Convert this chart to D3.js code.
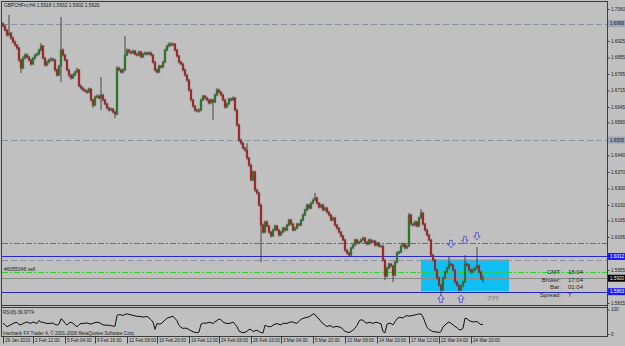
<!DOCTYPE html>
<html><head><meta charset="utf-8">
<script src="https://cdn.jsdelivr.net/npm/d3@7"></script>
<style>body{margin:0;background:#c0c0c0;}svg{display:block}</style>
</head><body>
<svg id="c" width="625" height="346"></svg>
<script>
// ---------- data ----------
const titleText = "GBPCHFm,H4  1.5918 1.5932 1.5902 1.5920";
const opens = [
1.6998,1.6988,1.6971,1.6950,1.6958,1.6937,1.6920,1.6908,1.6895,1.6844,
1.6810,1.6852,1.6865,1.6857,1.6844,1.6827,1.6852,1.6865,1.6869,1.6886,
1.6903,1.6852,1.6823,1.6835,1.6844,1.6848,1.6844,1.6802,1.6780,1.6818,
1.6886,1.6865,1.6844,1.6802,1.6780,1.6768,1.6780,1.6793,1.6802,1.6734,
1.6725,1.6717,1.6713,1.6708,1.6721,1.6675,1.6653,1.6687,1.6691,1.6683,
1.6696,1.6675,1.6658,1.6641,1.6632,1.6636,1.6624,1.6615,1.6810,1.6802,
1.6793,1.6802,1.6865,1.6886,1.6878,1.6874,1.6882,1.6869,1.6865,1.6878,
1.6857,1.6869,1.6874,1.6869,1.6874,1.6865,1.6835,1.6802,1.6793,1.6818,
1.6814,1.6835,1.6886,1.6903,1.6912,1.6908,1.6912,1.6886,1.6861,1.6835,
1.6827,1.6802,1.6780,1.6759,1.6717,1.6675,1.6649,1.6632,1.6628,1.6632,
1.6675,1.6691,1.6683,1.6675,1.6662,1.6675,1.6666,1.6696,1.6717,1.6708,
1.6696,1.6675,1.6645,1.6658,1.6679,1.6675,1.6683,1.6632,1.6569,1.6505,
1.6492,1.6471,1.6463,1.6429,1.6399,1.6336,1.6370,1.6293,1.6281,1.6230,
1.6145,1.6115,1.6158,1.6141,1.6115,1.6099,1.6124,1.6141,1.6124,1.6103,
1.6115,1.6132,1.6124,1.6145,1.6166,1.6149,1.6124,1.6132,1.6149,1.6145,
1.6166,1.6188,1.6209,1.6230,1.6217,1.6238,1.6251,1.6260,1.6238,1.6221,
1.6230,1.6209,1.6217,1.6200,1.6188,1.6166,1.6175,1.6145,1.6132,1.6115,
1.6099,1.6082,1.6039,1.6027,1.6018,1.6048,1.6060,1.6082,1.6069,1.6073,
1.6082,1.6090,1.6073,1.6065,1.6082,1.6073,1.6077,1.6060,1.6069,1.6056,
1.6056,1.5997,1.5929,1.5963,1.5980,1.5972,1.5933,1.5988,1.6027,1.6031,
1.6056,1.6065,1.6048,1.6056,1.6188,1.6149,1.6145,1.6158,1.6141,1.6175,
1.6196,1.6149,1.6124,1.6103,1.6082,1.6018,1.5997,1.5955,1.5921,1.5891,
1.5870,1.5921,1.5946,1.5963,1.5980,1.5976,1.5955,1.5904,1.5891,1.5870,
1.5887,1.5904,1.5980,1.5976,1.5955,1.5946,1.5955,1.5963,1.5972,1.5946,
1.5918];
const highs = [
1.7004,1.6994,1.6976,1.7035,1.6963,1.6944,1.6927,1.6912,1.6900,1.6850,
1.6860,1.6872,1.6873,1.6862,1.6849,1.6857,1.6870,1.6876,1.6892,1.6916,
1.6908,1.6857,1.6842,1.6850,1.6856,1.6853,1.6849,1.6808,1.6824,1.7026,
1.6893,1.6870,1.6848,1.6807,1.6786,1.6788,1.6799,1.6812,1.6806,1.6741,
1.6731,1.6723,1.6719,1.6727,1.6726,1.6680,1.6693,1.6698,1.6697,1.6772,
1.6701,1.6680,1.6663,1.6646,1.6642,1.6641,1.6629,1.6818,1.6816,1.6808,
1.6809,1.6945,1.6893,1.6892,1.6884,1.6888,1.6887,1.6875,1.6884,1.6883,
1.6875,1.6880,1.6879,1.6881,1.6879,1.6870,1.6840,1.6808,1.6824,1.6823,
1.6841,1.6892,1.6909,1.6918,1.6920,1.6918,1.6916,1.6891,1.6866,1.6841,
1.6832,1.6808,1.6785,1.6764,1.6722,1.6680,1.6654,1.6638,1.6639,1.6681,
1.6697,1.6696,1.6689,1.6680,1.6681,1.6680,1.6702,1.6725,1.6722,1.6713,
1.6701,1.6680,1.6664,1.6685,1.6684,1.6690,1.6688,1.6637,1.6574,1.6511,
1.6498,1.6477,1.6492,1.6434,1.6404,1.6376,1.6375,1.6299,1.6286,1.6235,
1.6151,1.6164,1.6165,1.6146,1.6120,1.6130,1.6147,1.6146,1.6129,1.6121,
1.6138,1.6137,1.6151,1.6172,1.6171,1.6154,1.6138,1.6155,1.6154,1.6172,
1.6194,1.6215,1.6236,1.6235,1.6244,1.6257,1.6281,1.6265,1.6243,1.6236,
1.6235,1.6223,1.6222,1.6205,1.6193,1.6181,1.6180,1.6150,1.6137,1.6120,
1.6104,1.6087,1.6044,1.6032,1.6054,1.6066,1.6088,1.6087,1.6079,1.6088,
1.6096,1.6095,1.6078,1.6088,1.6087,1.6083,1.6082,1.6075,1.6074,1.6062,
1.6061,1.6002,1.5969,1.5986,1.5985,1.5977,1.5994,1.6033,1.6037,1.6062,
1.6071,1.6070,1.6062,1.6196,1.6193,1.6155,1.6164,1.6163,1.6181,1.6213,
1.6201,1.6154,1.6129,1.6108,1.6087,1.6023,1.6002,1.5960,1.5926,1.5896,
1.5927,1.5952,1.5969,1.6010,1.5986,1.5981,1.5960,1.5909,1.5896,1.5893,
1.5910,1.6018,1.5986,1.5981,1.5961,1.5961,1.5969,1.6052,1.5977,1.5951,
1.5932];
const lows = [
1.6982,1.6965,1.6943,1.6945,1.6930,1.6914,1.6901,1.6887,1.6836,1.6789,
1.6804,1.6847,1.6850,1.6838,1.6820,1.6822,1.6846,1.6859,1.6864,1.6880,
1.6846,1.6816,1.6817,1.6829,1.6838,1.6837,1.6795,1.6773,1.6776,1.6751,
1.6858,1.6837,1.6796,1.6772,1.6761,1.6763,1.6775,1.6788,1.6728,1.6719,
1.6711,1.6706,1.6700,1.6703,1.6668,1.6641,1.6648,1.6682,1.6677,1.6632,
1.6669,1.6652,1.6635,1.6626,1.6627,1.6618,1.6598,1.6610,1.6796,1.6786,
1.6788,1.6797,1.6860,1.6872,1.6868,1.6869,1.6863,1.6859,1.6860,1.6851,
1.6852,1.6864,1.6863,1.6865,1.6859,1.6829,1.6795,1.6786,1.6789,1.6808,
1.6809,1.6830,1.6881,1.6898,1.6902,1.6903,1.6880,1.6855,1.6829,1.6821,
1.6796,1.6774,1.6752,1.6710,1.6668,1.6642,1.6626,1.6621,1.6622,1.6627,
1.6670,1.6677,1.6669,1.6656,1.6657,1.6590,1.6661,1.6691,1.6702,1.6690,
1.6669,1.6638,1.6640,1.6653,1.6669,1.6670,1.6626,1.6562,1.6498,1.6485,
1.6465,1.6456,1.6422,1.6392,1.6330,1.6331,1.6286,1.6274,1.6223,1.5988,
1.6108,1.6110,1.6135,1.6108,1.6092,1.6094,1.6119,1.6118,1.6096,1.6098,
1.6110,1.6118,1.6119,1.6140,1.6143,1.6118,1.6119,1.6127,1.6139,1.6140,
1.6161,1.6183,1.6204,1.6211,1.6212,1.6233,1.6246,1.6232,1.6215,1.6216,
1.6203,1.6204,1.6194,1.6182,1.6160,1.6161,1.6139,1.6126,1.6109,1.6093,
1.6076,1.6032,1.6021,1.6011,1.6013,1.6043,1.6055,1.6063,1.6064,1.6068,
1.6077,1.6067,1.6059,1.6060,1.6067,1.6068,1.6054,1.6055,1.6050,1.6050,
1.5990,1.5912,1.5924,1.5958,1.5966,1.5904,1.5928,1.5983,1.6021,1.6026,
1.6051,1.6042,1.6043,1.6051,1.6143,1.6139,1.6140,1.6135,1.6136,1.6170,
1.6143,1.6118,1.6097,1.6076,1.6012,1.5991,1.5949,1.5915,1.5885,1.5840,
1.5865,1.5916,1.5941,1.5958,1.5970,1.5949,1.5898,1.5885,1.5864,1.5865,
1.5882,1.5899,1.5970,1.5949,1.5940,1.5941,1.5950,1.5958,1.5940,1.5912,
1.5902];
const closes = [
1.6988,1.6971,1.6950,1.6958,1.6937,1.6920,1.6908,1.6895,1.6844,1.6810,
1.6852,1.6865,1.6857,1.6844,1.6827,1.6852,1.6865,1.6869,1.6886,1.6903,
1.6852,1.6823,1.6835,1.6844,1.6848,1.6844,1.6802,1.6780,1.6818,1.6886,
1.6865,1.6844,1.6802,1.6780,1.6768,1.6780,1.6793,1.6802,1.6734,1.6725,
1.6717,1.6713,1.6708,1.6721,1.6675,1.6653,1.6687,1.6691,1.6683,1.6696,
1.6675,1.6658,1.6641,1.6632,1.6636,1.6624,1.6615,1.6810,1.6802,1.6793,
1.6802,1.6865,1.6886,1.6878,1.6874,1.6882,1.6869,1.6865,1.6878,1.6857,
1.6869,1.6874,1.6869,1.6874,1.6865,1.6835,1.6802,1.6793,1.6818,1.6814,
1.6835,1.6886,1.6903,1.6912,1.6908,1.6912,1.6886,1.6861,1.6835,1.6827,
1.6802,1.6780,1.6759,1.6717,1.6675,1.6649,1.6632,1.6628,1.6632,1.6675,
1.6691,1.6683,1.6675,1.6662,1.6675,1.6666,1.6696,1.6717,1.6708,1.6696,
1.6675,1.6645,1.6658,1.6679,1.6675,1.6683,1.6632,1.6569,1.6505,1.6492,
1.6471,1.6463,1.6429,1.6399,1.6336,1.6370,1.6293,1.6281,1.6230,1.6145,
1.6115,1.6158,1.6141,1.6115,1.6099,1.6124,1.6141,1.6124,1.6103,1.6115,
1.6132,1.6124,1.6145,1.6166,1.6149,1.6124,1.6132,1.6149,1.6145,1.6166,
1.6188,1.6209,1.6230,1.6217,1.6238,1.6251,1.6260,1.6238,1.6221,1.6230,
1.6209,1.6217,1.6200,1.6188,1.6166,1.6175,1.6145,1.6132,1.6115,1.6099,
1.6082,1.6039,1.6027,1.6018,1.6048,1.6060,1.6082,1.6069,1.6073,1.6082,
1.6090,1.6073,1.6065,1.6082,1.6073,1.6077,1.6060,1.6069,1.6056,1.6056,
1.5997,1.5929,1.5963,1.5980,1.5972,1.5933,1.5988,1.6027,1.6031,1.6056,
1.6065,1.6048,1.6056,1.6188,1.6149,1.6145,1.6158,1.6141,1.6175,1.6196,
1.6149,1.6124,1.6103,1.6082,1.6018,1.5997,1.5955,1.5921,1.5891,1.5870,
1.5921,1.5946,1.5963,1.5980,1.5976,1.5955,1.5904,1.5891,1.5870,1.5887,
1.5904,1.5980,1.5976,1.5955,1.5946,1.5955,1.5963,1.5972,1.5946,1.5918,
1.5920];
const rsi = [
44,38,29,34,38,43,46,48,38,38,
43,46,49,45,44,49,46,43,55,48,
48,45,43,43,44,45,39,36,41,62,
56,44,36,45,48,44,36,29,38,43,
43,44,45,42,41,43,47,48,46,43,
37,36,36,36,34,32,32,76,79,78,
76,80,82,80,78,76,74,72,72,71,
69,70,72,66,58,49,19,43,40,42,
49,57,64,68,70,72,64,54,35,27,
23,24,23,18,13,9,7,5,8,40,
45,44,45,48,46,43,50,55,61,58,
49,45,43,43,45,49,40,30,12,8,
5,7,11,19,18,10,13,16,10,6,
4,36,32,30,30,36,40,43,39,37,
44,44,43,47,49,49,45,44,52,60,
64,66,68,70,76,82,80,68,62,50,
43,36,30,34,33,27,30,31,29,26,
19,11,8,6,10,16,24,35,53,58,
56,48,44,48,46,43,47,48,44,42,
10,5,40,44,43,37,50,62,68,67,
65,72,75,73,74,76,78,80,82,82,
70,48,27,19,14,10,9,8,6,10,
29,37,44,49,44,37,31,26,18,17,
23,65,62,55,52,49,50,51,44,38,
40];
const rsiLabel = "RSI(8) 39.9774";
const timeLabels = ["29 Jan 2010","2 Feb 12:00","5 Feb 04:00","9 Feb 16:00","12 Feb 08:00","16 Feb 20:00","19 Feb 12:00","24 Feb 08:00","26 Feb 16:00","3 Mar 04:00","5 Mar 20:00","10 Mar 08:00","14 Mar 20:00","17 Mar 12:00","22 Mar 04:00","24 Mar 20:00"];
const timeLabelBars = [0,15,31,46,62,77,93,108,124,139,155,171,187,203,218,234];
const priceTicks = [1.7060,1.6990,1.6925,1.6855,1.6785,1.6715,1.6645,1.6580,1.6510,1.6440,1.6370,1.6300,1.6230,1.6165,1.6095,1.6025,1.5955,1.5885,1.5815];
const rsiTicks = [100, 0];
const dashedGrayLevels = [1.6998, 1.6505, 1.5997];
const redLevels = [1.6069];
const blueLevels = [1.6012, 1.5863];
const greenLevels = [1.5946];
const bidLevels = [1.5920];
const boxBars = [209, 253];
const boxPrices = [1.5999, 1.5865];
const upArrowBars = [219, 229];
const upArrowPrices = [1.5832, 1.5832];
const downArrowBars = [224, 231, 237];
const downArrowPrices = [1.6065, 1.6082, 1.6099];
const questionBar = 242, questionPrice = 1.5832;
const orderLabel = "#6055046 sell";
const infoKeys = ["CMT:", "Broker:", "Bar:", "Spread:"];
const infoVals = ["18:04", "17:04", "01:04", "7"];
const copyright = "Interbank FX Trader 4, \u00a9 2001-2008 MetaQuotes Software Corp.";

// ---------- drawing ----------
const svg = d3.select("#c");
const FONT = "Liberation Sans, Arial, sans-serif";
const N = closes.length;
const x = d3.scaleLinear().domain([0, N - 1]).range([3, 483]);
const y = d3.scaleLinear().domain([1.5815, 1.7060]).range([303, 9]);
const yr = d3.scaleLinear().domain([0, 100]).range([334, 309.5]);

svg.append("rect").attr("width", 625).attr("height", 346).attr("fill", "#c0c0c0");

const main = svg.append("g");
main.append("rect")
  .attr("x", x(boxBars[0])).attr("width", x(boxBars[1]) - x(boxBars[0]))
  .attr("y", y(boxPrices[0])).attr("height", y(boxPrices[1]) - y(boxPrices[0]))
  .attr("fill", "#10c0f4");

function hlines(vals, color, dash, width) {
  main.selectAll(null).data(vals).join("line")
    .attr("x1", 2).attr("x2", 607).attr("y1", d => Math.round(y(d)) + 0.5).attr("y2", d => Math.round(y(d)) + 0.5)
    .attr("stroke", color).attr("stroke-width", width || 1).attr("stroke-dasharray", dash);
}
hlines(redLevels, "#f03232", "6,2,2,2");
hlines(greenLevels, "#30d030", "6,2,2,2");
hlines(bidLevels, "#8a8a8a", null);
hlines(blueLevels, "#2828c8", null);
hlines(dashedGrayLevels, "#8a93a3", "6,3");

// candles
const idx = d3.range(N);
main.selectAll(".halo").data(idx).join("rect")
  .attr("x", i => x(i) - 1.5).attr("width", 3)
  .attr("y", i => y(Math.max(opens[i], closes[i])) - 0.7)
  .attr("height", i => Math.max(1.2, Math.abs(y(opens[i]) - y(closes[i]))) + 1.4)
  .attr("fill", "#7c7c7c").attr("opacity", 0.5);
main.selectAll(".wick").data(idx).join("line")
  .attr("x1", i => x(i)).attr("x2", i => x(i))
  .attr("y1", i => y(highs[i])).attr("y2", i => y(lows[i]))
  .attr("stroke", "#262626").attr("stroke-width", 0.8);
main.selectAll(".body").data(idx).join("rect")
  .attr("x", i => x(i) - 0.8).attr("width", 1.6)
  .attr("y", i => y(Math.max(opens[i], closes[i])))
  .attr("height", i => Math.max(0.7, Math.abs(y(opens[i]) - y(closes[i]))))
  .attr("fill", i => closes[i] >= opens[i] ? "#1b7a1b" : "#b81414");

// arrows
const upPath = "M0,-3.8 L3.2,-0.3 L1.3,-0.3 L1.3,3.6 L-1.3,3.6 L-1.3,-0.3 L-3.2,-0.3 Z";
main.selectAll(".up").data(upArrowBars).join("path")
  .attr("d", upPath).attr("transform", (b, i) => `translate(${x(b)},${y(upArrowPrices[i])})`)
  .attr("fill", "#c4c4ee").attr("stroke", "#4646a8").attr("stroke-width", 0.8);
main.selectAll(".dn").data(downArrowBars).join("path")
  .attr("d", upPath).attr("transform", (b, i) => `translate(${x(b)},${y(downArrowPrices[i])}) rotate(180)`)
  .attr("fill", "#c4c4ee").attr("stroke", "#4646a8").attr("stroke-width", 0.8);
main.append("text").attr("x", x(questionBar)).attr("y", y(questionPrice)).attr("dy", "0.35em")
  .attr("font-family", FONT).attr("font-size", 7).attr("fill", "#66668a").text("???");

// texts
main.append("text").attr("x", 4).attr("y", 5.5).attr("dy", "0.35em").attr("font-family", FONT)
  .attr("font-size", 4.8).attr("fill", "#1a1a1a").text(titleText);
main.append("text").attr("x", 4).attr("y", y(greenLevels[0]) - 3).attr("dy", "0.35em").attr("font-family", FONT)
  .attr("font-size", 5).attr("fill", "#1a1a1a").text(orderLabel);
const infoY = [272, 279.5, 287, 294.5];
main.selectAll(".ik").data(infoKeys).join("text").attr("x", 561).attr("y", (d, i) => infoY[i]).attr("dy", "0.35em")
  .attr("text-anchor", "end").attr("font-family", FONT).attr("font-size", 6).attr("fill", "#2a2a2a").text(d => d);
main.selectAll(".iv").data(infoVals).join("text").attr("x", 568).attr("y", (d, i) => infoY[i]).attr("dy", "0.35em")
  .attr("font-family", FONT).attr("font-size", 6).attr("fill", "#2a2a2a").text(d => d);

// RSI
svg.append("path").datum(rsi)
  .attr("d", d3.line().x((d, i) => x(i)).y(d => yr(d)))
  .attr("fill", "none").attr("stroke", "#111").attr("stroke-width", 1);
svg.append("text").attr("x", 3).attr("y", 312).attr("dy", "0.35em").attr("font-family", FONT)
  .attr("font-size", 4.6).attr("fill", "#1a1a1a").text(rsiLabel);
svg.append("text").attr("x", 3).attr("y", 333.3).attr("dy", "0.35em").attr("font-family", FONT)
  .attr("font-size", 4.6).attr("fill", "#1a1a1a").text(copyright);

// frame
const fr = "#3c3c3c";
[[1, 1.5, 607.5, 1.5], [1.5, 1, 1.5, 337], [607.5, 1, 607.5, 337], [1, 305.5, 607.5, 305.5], [1, 307.5, 607.5, 307.5], [1, 336.5, 607.5, 336.5]]
  .forEach(l => svg.append("line").attr("x1", l[0]).attr("y1", l[1]).attr("x2", l[2]).attr("y2", l[3]).attr("stroke", fr).attr("stroke-width", 1));

// price boxes on the axis (drawn labels hide the regular tick labels beneath them)
const boxes = [
  {v: dashedGrayLevels[0], fill: "#9aa6bc", tc: "#1a1a1a"},
  {v: dashedGrayLevels[1], fill: "#9aa6bc", tc: "#1a1a1a"},
  {v: blueLevels[0], fill: "#1c1cf0", tc: "#ffffff"},
  {v: bidLevels[0], fill: "#000000", tc: "#ffffff"},
  {v: blueLevels[1], fill: "#1c1cf0", tc: "#ffffff"}
];
const visibleTicks = priceTicks.filter(t => boxes.every(b => Math.abs(y(t) - y(b.v)) > 6.5));

// price axis
const pa = svg.append("g").attr("transform", "translate(607.5,0)")
  .call(d3.axisRight(y).tickValues(visibleTicks).tickFormat(d3.format(".4f")).tickSize(2).tickPadding(1.5));
pa.select(".domain").remove();
pa.selectAll("line").attr("stroke", fr);
pa.selectAll("text").attr("font-family", FONT).attr("font-size", 4.6).attr("fill", "#1a1a1a");
// RSI axis
const ra = svg.append("g").attr("transform", "translate(607.5,0)")
  .call(d3.axisRight(yr).tickValues(rsiTicks).tickSize(2).tickPadding(1.5));
ra.select(".domain").remove();
ra.selectAll("line").attr("stroke", fr);
ra.selectAll("text").attr("font-family", FONT).attr("font-size", 4.6).attr("fill", "#1a1a1a");
// time axis
const ta = svg.append("g").attr("transform", "translate(0,336.5)")
  .call(d3.axisBottom(x).tickValues(timeLabelBars).tickFormat((d, i) => timeLabels[i]).tickSize(7));
ta.select(".domain").remove();
ta.selectAll("line").attr("stroke", fr);
ta.selectAll("text").attr("x", 1.5).attr("y", 2.5).attr("dy", "0.71em").attr("text-anchor", "start")
  .attr("font-family", FONT).attr("font-size", 4.6).attr("fill", "#1a1a1a");

const bg = svg.append("g");
bg.selectAll("rect").data(boxes).join("rect")
  .attr("x", 608).attr("y", d => y(d.v) - 3.5).attr("width", 17).attr("height", 7).attr("fill", d => d.fill);
bg.selectAll("text").data(boxes).join("text")
  .attr("x", 610).attr("y", d => y(d.v)).attr("dy", "0.35em").attr("font-family", FONT).attr("font-size", 4.6)
  .attr("fill", d => d.tc).text(d => d3.format(".4f")(d.v));
</script>
</body></html>
